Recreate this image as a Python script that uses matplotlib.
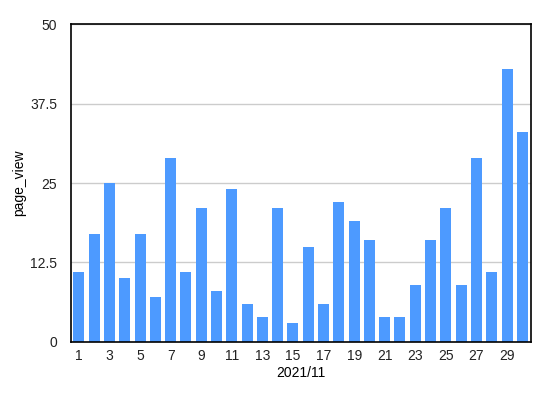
import matplotlib
matplotlib.use("Agg")
import matplotlib.pyplot as plt

days = list(range(1, 31))
page_view = [11, 17, 25, 10, 17, 7, 29, 11, 21, 8,
             24, 6, 4, 21, 3, 15, 6, 22, 19, 16,
             4, 4, 9, 16, 21, 9, 29, 11, 43, 33]
y_ticks = [0, 12.5, 25, 37.5, 50]
y_tick_labels = ["0", "12.5", "25", "37.5", "50"]
x_ticks = days[::2]

plt.rcParams['font.family'] = ['Liberation Sans', 'DejaVu Sans']
plt.rcParams['font.size'] = 10

fig = plt.figure(figsize=(5.56, 3.93), dpi=100)
ax = fig.add_axes([0.1277, 0.1298, 0.8268, 0.8091])

ax.bar(days, page_view, width=0.72, color='#4d9aff', zorder=2)

ax.set_xlim(0.48, 30.55)
ax.set_ylim(0, 50)
ax.set_yticks(y_ticks)
ax.set_yticklabels(y_tick_labels)
ax.set_xticks(x_ticks)
ax.set_xticklabels([str(d) for d in x_ticks])
ax.tick_params(axis='y', length=0, pad=10, colors='#222222')
ax.tick_params(axis='x', length=0, pad=5, colors='#222222')
ax.yaxis.grid(True, color='#cccccc', linewidth=1, zorder=0)
ax.xaxis.grid(False)

for s in ax.spines.values():
    s.set_color('black')
    s.set_linewidth(1.2)
    s.set_zorder(3)

ax.set_xlabel('2021/11', labelpad=2)
ax.set_ylabel('page_view', labelpad=3)

fig.savefig('out.png', dpi=100)
